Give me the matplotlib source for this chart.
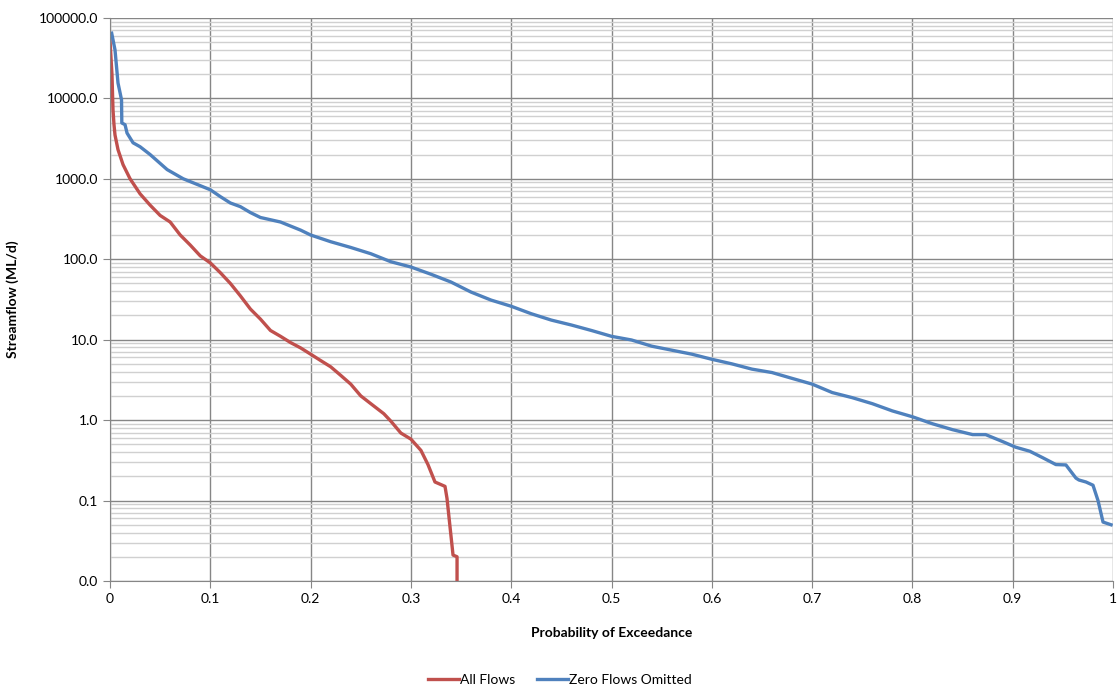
import matplotlib
matplotlib.use("Agg")
import matplotlib.pyplot as plt
import matplotlib.ticker as mticker
import numpy as np

plt.rcParams['font.family'] = ['Lato', 'DejaVu Sans']

# All Flows (probability of exceedance, streamflow ML/d)
all_p = [0.0, 0.002, 0.003, 0.004, 0.005, 0.008, 0.013, 0.02, 0.03, 0.04, 0.05,
         0.06, 0.07, 0.08, 0.09, 0.1, 0.11, 0.12, 0.13, 0.14, 0.15, 0.16, 0.17,
         0.18, 0.19, 0.2, 0.21, 0.22, 0.23, 0.24, 0.25, 0.26, 0.273, 0.28, 0.29,
         0.3, 0.31, 0.317, 0.324, 0.334, 0.336, 0.339, 0.342, 0.346, 0.346]
all_q = [53000, 19500, 7200, 4700, 3500, 2300, 1500, 1000, 650, 470, 350,
         290, 200, 150, 110, 90, 68, 50, 35, 24, 18, 13, 11,
         9.2, 7.9, 6.6, 5.5, 4.6, 3.6, 2.8, 2.0, 1.6, 1.2, 0.97, 0.69,
         0.58, 0.42, 0.28, 0.17, 0.15, 0.106, 0.047, 0.021, 0.020, 0.01]

# Zero Flows Omitted
nz_p = [0.0017, 0.005, 0.008, 0.0115, 0.0118, 0.015, 0.017, 0.023, 0.03, 0.04,
        0.057, 0.073, 0.1, 0.11, 0.12, 0.13, 0.14, 0.15, 0.17, 0.19, 0.2, 0.22,
        0.24, 0.26, 0.28, 0.3, 0.32, 0.34, 0.36, 0.38, 0.4, 0.42, 0.44, 0.46,
        0.48, 0.5, 0.52, 0.54, 0.56, 0.58, 0.6, 0.62, 0.64, 0.66, 0.68, 0.7,
        0.72, 0.74, 0.76, 0.78, 0.8, 0.82, 0.84, 0.86, 0.873, 0.89, 0.903,
        0.917, 0.93, 0.943, 0.953, 0.963, 0.966, 0.973, 0.98, 0.985, 0.99, 0.998]
nz_q = [64500, 40000, 15500, 9600, 4940, 4700, 3700, 2800, 2500, 2000,
        1300, 1000, 730, 600, 500, 450, 380, 330, 290, 230, 200, 165,
        140, 117, 93, 80, 65, 52, 39, 31, 26, 21, 17.5, 15.2,
        13, 11, 9.9, 8.3, 7.4, 6.6, 5.7, 5.0, 4.3, 3.9, 3.3, 2.8,
        2.2, 1.9, 1.6, 1.3, 1.1, 0.9, 0.76, 0.66, 0.66, 0.54,
        0.46, 0.41, 0.34, 0.28, 0.277, 0.19, 0.18, 0.17, 0.155, 0.1, 0.054, 0.05]

fig = plt.figure(figsize=(11.2, 6.9), dpi=100)
ax = fig.add_axes([0.0982, 0.158, 0.8956, 0.8161])

ax.plot(all_p, all_q, color='#C0504D', lw=2.4, label='All Flows',
        solid_joinstyle='round')
ax.plot(nz_p, nz_q, color='#4F81BD', lw=2.4, label='Zero Flows Omitted',
        solid_joinstyle='round')

ax.set_yscale('log')
ax.set_ylim(0.01, 100000)
ax.set_xlim(0, 1)
ax.set_xticks(np.arange(0, 1.01, 0.1))
ax.xaxis.set_major_formatter(mticker.FuncFormatter(lambda v, p: '{:g}'.format(round(v, 1))))
ax.yaxis.set_major_locator(mticker.LogLocator(base=10, numticks=10))
ax.yaxis.set_minor_locator(mticker.LogLocator(base=10, subs=np.arange(2, 10), numticks=20))
ax.yaxis.set_major_formatter(mticker.FuncFormatter(lambda v, p: '{:.1f}'.format(v)))
ax.yaxis.set_minor_formatter(mticker.NullFormatter())

ax.grid(True, which='major', axis='both', color='#868686', lw=1.0)
ax.grid(True, which='minor', axis='y', color='#d0d0d0', lw=1.0)
ax.set_axisbelow(True)

for s in ['top', 'right']:
    ax.spines[s].set_visible(False)
for s in ['left', 'bottom']:
    ax.spines[s].set_color('#868686')
ax.tick_params(axis='both', which='major', direction='out', length=5,
               color='#868686', labelsize=10)
ax.tick_params(axis='y', which='minor', length=0)

ax.set_xlabel('Probability of Exceedance', fontsize=10, fontweight='bold', labelpad=16)
ax.set_ylabel('Streamflow (ML/d)', fontsize=10, fontweight='bold', labelpad=14)

fig.legend(loc='lower center', bbox_to_anchor=(0.5, -0.012), ncol=2, frameon=False,
           fontsize=10, handlelength=2.2, columnspacing=1.6, handletextpad=0.1)

fig.savefig('out.png', dpi=100)
